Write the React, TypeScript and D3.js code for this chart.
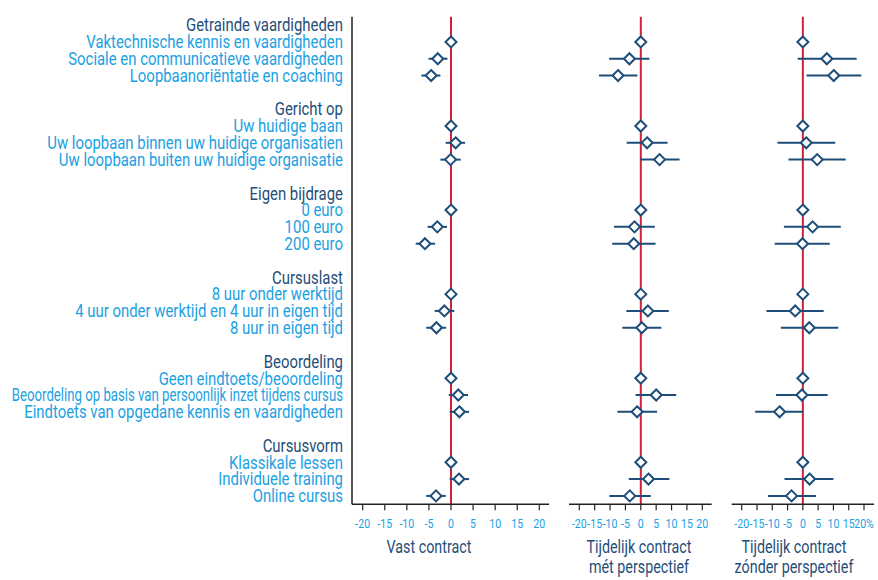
import React, { useLayoutEffect, useRef, useState } from "react";
import * as d3 from "d3";

// ---------- DATA ----------
const groups = [
  "Getrainde vaardigheden",
  "Gericht op",
  "Eigen bijdrage",
  "Cursuslast",
  "Beoordeling",
  "Cursusvorm",
];
const items = [
  ["Vaktechnische kennis en vaardigheden", "Sociale en communicatieve vaardigheden", "Loopbaanoriëntatie en coaching"],
  ["Uw huidige baan", "Uw loopbaan binnen uw huidige organisatien", "Uw loopbaan buiten uw huidige organisatie"],
  ["0 euro", "100 euro", "200 euro"],
  ["8 uur onder werktijd", "4 uur onder werktijd en 4 uur in eigen tijd", "8 uur in eigen tijd"],
  ["Geen eindtoets/beoordeling", "Beoordeling op basis van persoonlijk inzet tijdens cursus", "Eindtoets van opgedane kennis en vaardigheden"],
  ["Klassikale lessen", "Individuele training", "Online cursus"],
];

const panelTitles = [
  ["Vast contract"],
  ["Tijdelijk contract", "mét perspectief"],
  ["Tijdelijk contract", "zónder perspectief"],
];

const tickValues = [-20, -15, -10, -5, 0, 5, 10, 15, 20];

// Panel 1: Vast contract (null = reference category, no interval)
const est1 = [0, -3.0, -4.5, 0, 1.05, -0.1, 0, -3.1, -5.9, 0, -1.5, -3.3, 0, 1.65, 1.9, 0, 1.8, -3.4];
const lo1 = [null, -5.1, -6.7, null, -1.2, -2.4, null, -5.3, -8.0, null, -3.7, -5.6, null, -0.5, -0.3, null, -0.3, -5.6];
const hi1 = [null, -0.8, -2.4, null, 3.2, 2.2, null, -0.9, -3.6, null, 0.75, -1.1, null, 3.85, 4.1, null, 4.1, -1.2];

// Panel 2: Tijdelijk contract mét perspectief
const est2 = [0, -3.7, -7.4, 0, 2.05, 6.1, 0, -2.05, -2.3, 0, 2.3, 0.33, 0, 5.0, -1.2, 0, 2.5, -3.6];
const lo2 = [null, -10.3, -13.6, null, -4.6, -0.2, null, -8.7, -9.3, null, -4.7, -6.0, null, -1.7, -7.6, null, -3.9, -10.2];
const hi2 = [null, 2.8, -1.1, null, 8.7, 12.6, null, 4.55, 4.8, null, 9.1, 6.7, null, 11.5, 5.3, null, 9.3, 3.25];

// Panel 3: Tijdelijk contract zónder perspectief
const est3 = [0, 7.85, 10.1, 0, 1.1, 4.7, 0, 3.2, -0.1, 0, -2.5, 2.1, 0, -0.3, -7.6, 0, 2.2, -3.7];
const lo3 = [null, -1.7, 1.2, null, -8.3, -4.7, null, -6.2, -9.2, null, -11.9, -7.2, null, -8.8, -15.6, null, -6.0, -11.4];
const hi3 = [null, 17.6, 19.1, null, 10.6, 14.0, null, 12.4, 8.8, null, 6.8, 11.6, null, 8.1, 0.1, null, 10.0, 4.3];

// ---------- LAYOUT ----------
const W = 878;
const H = 580;
const NAVY = "#1f4e79";
const LIGHT = "#1ba1e2";
const RED = "#d0213a";
const MARK = "#1d4d78";
const FONT = "Roboto, 'Noto Sans', sans-serif";
const LABEL_SIZE = 17.5;
const TICK_SIZE = 13.5;
const TITLE_SIZE = 18.5;
const LABEL_RIGHT = 343;
const LABEL_MAX_W = 331;
const REF_LABEL = "Uw loopbaan binnen uw huidige organisatien";
const REF_LABEL_W = 296;
const REF_TITLE = "Vast contract";
const REF_TITLE_W = 85;

type Row = { label: string; header: boolean; idx: number | null; slot: number };

function buildRows(): Row[] {
  const rows: Row[] = [];
  let slot = 0;
  let k = 0;
  groups.forEach((g, gi) => {
    rows.push({ label: g, header: true, idx: null, slot });
    slot++;
    items[gi].forEach((it) => {
      rows.push({ label: it, header: false, idx: k, slot });
      k++;
      slot++;
    });
    slot++; // blank
  });
  return rows;
}

const panels = [
  { est: est1, lo: lo1, hi: hi1, range: [362.7, 539.3], axis: [352, 549], titleX: 429, leftAxis: true, pct: false },
  { est: est2, lo: lo2, hi: hi2, range: [579.3, 702.3], axis: [569, 711.7], titleX: 639, leftAxis: false, pct: false },
  { est: est3, lo: lo3, hi: hi3, range: [741.7, 864], axis: [731.7, 874], titleX: 794, leftAxis: false, pct: true },
];

export default function App() {
  const rows = buildRows();
  const nSlots = d3.max(rows, (r) => r.slot)! + 1;
  const yTop = 16.7;
  const yBot = 504.3;
  const y = d3.scaleBand<number>().domain(d3.range(nSlots)).range([yTop, yBot]);
  const yc = (s: number) => (y(s) as number) + y.bandwidth() / 2;
  const itemRows = rows.filter((r) => !r.header);

  const labelRef = useRef<SVGTextElement>(null);
  const titleRef = useRef<SVGTextElement>(null);
  const rowRefs = useRef<(SVGTextElement | null)[]>([]);
  const [sx, setSx] = useState(0.9);
  const [tsx, setTsx] = useState(0.75);
  const [rowW, setRowW] = useState<number[]>([]);
  useLayoutEffect(() => {
    if (labelRef.current) {
      const w = labelRef.current.getComputedTextLength();
      if (w > 0) setSx(REF_LABEL_W / w);
    }
    if (titleRef.current) {
      const w = titleRef.current.getComputedTextLength();
      if (w > 0) setTsx(REF_TITLE_W / w);
    }
    setRowW(rowRefs.current.map((el) => (el ? el.getComputedTextLength() : 0)));
  }, []);

  const diamond = (cx: number, cy: number, r: number) =>
    `M${cx},${cy - r}L${cx + r},${cy}L${cx},${cy + r}L${cx - r},${cy}Z`;

  return (
    <svg width={W} height={H} style={{ position: "absolute", left: 0, top: 0, background: "#fff" }} fontFamily={FONT}>
      {/* hidden measuring texts */}
      <text ref={labelRef} x={-1000} y={-1000} fontSize={LABEL_SIZE} visibility="hidden">{REF_LABEL}</text>
      <text ref={titleRef} x={-1000} y={-1000} fontSize={TITLE_SIZE} visibility="hidden">{REF_TITLE}</text>

      {/* row labels */}
      {rows.map((r, i) => {
        const w = rowW[i] || 0;
        const s = w > 0 ? Math.min(sx, LABEL_MAX_W / w) : sx;
        return (
          <text
            key={"l" + i}
            ref={(el) => {
              rowRefs.current[i] = el;
            }}
            transform={`translate(${LABEL_RIGHT},${yc(r.slot)}) scale(${s},1)`}
            dy="0.36em"
            textAnchor="end"
            fontSize={LABEL_SIZE}
            fill={r.header ? NAVY : LIGHT}
          >
            {r.label}
          </text>
        );
      })}

      {panels.map((p, pi) => {
        const x = d3.scaleLinear().domain([-20, 20]).range(p.range);
        const x0 = x(0);
        return (
          <g key={"p" + pi}>
            {p.leftAxis && (
              <line x1={p.axis[0]} x2={p.axis[0]} y1={yTop} y2={yBot} stroke="#555" strokeWidth={2} />
            )}
            {/* zero line */}
            <line x1={x0} x2={x0} y1={yTop} y2={yBot} stroke={RED} strokeWidth={2} />
            {/* x axis */}
            <line x1={p.axis[0]} x2={p.axis[1]} y1={yBot} y2={yBot} stroke="#222" strokeWidth={1.5} />
            {tickValues.map((t) => (
              <g key={"t" + t}>
                <line x1={x(t)} x2={x(t)} y1={yBot} y2={yBot + 6} stroke="#222" strokeWidth={1.2} />
                <text
                  transform={`translate(${x(t)},528) scale(${sx * 0.92},1)`}
                  textAnchor="middle"
                  fontSize={TICK_SIZE}
                  fill={LIGHT}
                >
                  {p.pct && t === 20 ? "20%" : String(t)}
                </text>
              </g>
            ))}
            {/* intervals and points */}
            {itemRows.map((r) => {
              const k = r.idx as number;
              const cy = yc(r.slot);
              const lo = p.lo[k];
              const hi = p.hi[k];
              return (
                <g key={"m" + k}>
                  {lo !== null && hi !== null && (
                    <line x1={x(lo)} x2={x(hi)} y1={cy} y2={cy} stroke={MARK} strokeWidth={2} />
                  )}
                  <path d={diamond(x(p.est[k]), cy, 5.5)} fill="#fff" stroke={MARK} strokeWidth={2} />
                </g>
              );
            })}
            {/* title */}
            {panelTitles[pi].map((t, ti) => (
              <text
                key={"ti" + ti}
                transform={`translate(${p.titleX},${552.5 + ti * 20.5}) scale(${tsx},1)`}
                textAnchor="middle"
                fontSize={TITLE_SIZE}
                fill={NAVY}
              >
                {t}
              </text>
            ))}
          </g>
        );
      })}
    </svg>
  );
}
